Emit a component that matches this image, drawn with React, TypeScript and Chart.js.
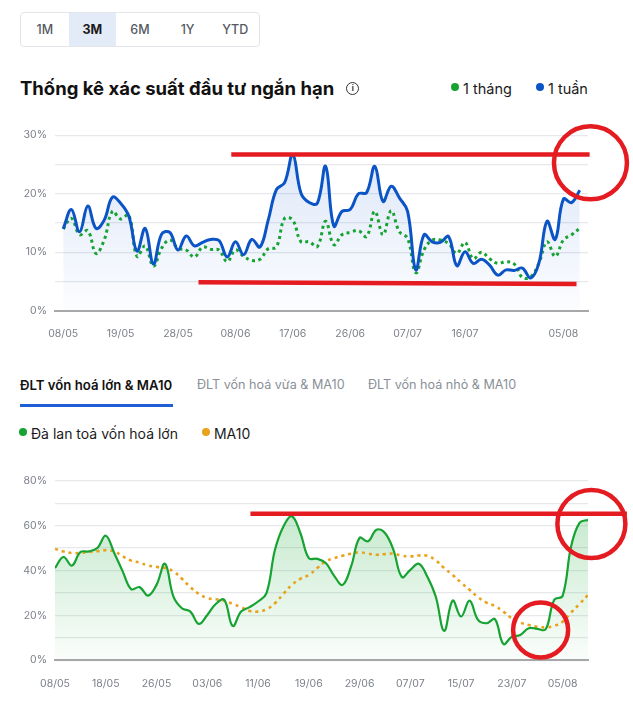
import React, { useEffect, useRef } from 'react';
import { Chart, registerables } from 'chart.js';

Chart.register(...registerables);

// short-term probability chart (top)
const topDates = [
  '08/05', '09/05', '12/05', '13/05', '14/05', '15/05', '16/05', '19/05', '20/05', '21/05',
  '22/05', '23/05', '26/05', '27/05', '28/05', '29/05', '30/05', '02/06', '03/06', '04/06',
  '05/06', '08/06', '09/06', '10/06', '11/06', '12/06', '13/06', '16/06', '17/06', '18/06',
  '19/06', '20/06', '23/06', '24/06', '25/06', '26/06', '27/06', '30/06', '01/07', '02/07',
  '03/07', '04/07', '07/07', '08/07', '09/07', '10/07', '11/07', '14/07', '15/07', '16/07',
  '17/07', '18/07', '21/07', '22/07', '23/07', '24/07', '25/07', '28/07', '29/07', '30/07',
  '31/07', '05/08', '06/08', '07/08',
];
const topTickLabels = ['08/05', '19/05', '28/05', '08/06', '17/06', '26/06', '07/07', '16/07', '05/08'];
const oneWeek = [
  14.0, 17.3, 13.5, 17.9, 14.1, 15.5, 19.4, 18.4, 16.2, 10.2,
  14.1, 8.0, 13.1, 13.4, 10.4, 12.8, 11.1, 11.7, 12.2, 12.0,
  9.2, 11.8, 9.6, 12.2, 10.9, 15.5, 20.7, 21.9, 26.7, 20.1,
  18.5, 18.4, 24.7, 14.5, 17.0, 17.3, 20.0, 20.2, 24.7, 18.7,
  21.3, 19.3, 17.0, 7.0, 13.0, 11.8, 11.7, 12.7, 7.7, 10.1,
  8.1, 8.8, 7.8, 6.1, 7.0, 6.9, 7.3, 5.6, 8.1, 15.3,
  12.2, 19.1, 18.5, 20.6,
];
const oneMonth = [
  14.0, 15.8, 13.0, 13.7, 9.8, 12.1, 17.0, 15.7, 16.4, 9.3,
  11.1, 7.6, 10.7, 12.1, 10.7, 10.4, 9.2, 10.9, 10.5, 10.4,
  8.4, 10.4, 9.3, 8.6, 8.8, 10.6, 10.9, 15.8, 15.5, 11.8,
  11.8, 11.0, 15.3, 11.3, 13.0, 13.4, 13.7, 12.7, 17.0, 13.0,
  17.1, 13.5, 12.4, 6.5, 10.4, 12.1, 12.1, 11.5, 9.8, 11.7,
  8.9, 10.0, 8.9, 8.1, 8.4, 8.0, 5.7, 5.8, 8.1, 11.8,
  9.3, 12.1, 13.0, 14.1,
];
const topYTicks = [0, 10, 20, 30];

// large-cap breadth chart (bottom)
const bottomDates = [
  '08/05', '09/05', '12/05', '13/05', '14/05', '15/05', '18/05', '19/05', '20/05', '21/05',
  '22/05', '23/05', '26/05', '27/05', '28/05', '29/05', '30/05', '02/06', '03/06', '04/06',
  '05/06', '06/06', '09/06', '10/06', '11/06', '12/06', '13/06', '16/06', '17/06', '18/06',
  '19/06', '20/06', '23/06', '24/06', '25/06', '26/06', '29/06', '30/06', '01/07', '02/07',
  '03/07', '04/07', '07/07', '08/07', '09/07', '10/07', '11/07', '14/07', '15/07', '16/07',
  '17/07', '18/07', '21/07', '22/07', '23/07', '24/07', '25/07', '28/07', '29/07', '30/07',
  '05/08', '06/08', '07/08', '08/08',
];
const bottomTickLabels = ['08/05', '18/05', '26/05', '03/06', '11/06', '19/06', '29/06', '07/07', '15/07', '23/07', '05/08'];
const breadthLarge = [
  41.1, 46.0, 42.2, 48.2, 48.5, 50.0, 55.5, 47.8, 39.6, 31.7,
  32.6, 28.8, 33.6, 43.0, 28.4, 23.2, 21.7, 16.2, 20.2, 25.1,
  26.9, 15.3, 21.7, 23.7, 26.2, 29.9, 49.2, 59.6, 64.1, 56.7,
  45.5, 45.2, 43.3, 37.6, 33.6, 41.8, 54.5, 53.0, 58.2, 56.7,
  49.2, 37.1, 40.3, 43.0, 37.3, 28.4, 13.1, 26.6, 19.5, 26.6,
  18.0, 16.5, 18.3, 7.3, 10.5, 11.3, 14.3, 14.0, 13.8, 26.9,
  28.7, 50.7, 61.2, 62.6,
];
const ma10 = [
  49.6, 48.5, 47.8, 47.8, 48.2, 48.6, 49.0, 48.5, 46.3, 44.4,
  43.5, 42.2, 41.6, 41.1, 39.6, 36.3, 32.6, 29.6, 27.7, 27.2,
  26.6, 25.1, 23.7, 22.0, 21.7, 22.7, 25.4, 29.6, 33.6, 36.3,
  38.0, 41.1, 44.1, 45.5, 46.6, 47.5, 48.1, 47.5, 47.0, 47.3,
  47.5, 46.6, 46.3, 46.7, 46.6, 44.5, 41.1, 38.0, 34.6, 31.4,
  28.1, 25.7, 24.2, 21.7, 18.7, 16.8, 15.7, 14.9, 14.7, 15.3,
  17.2, 21.3, 25.1, 29.1,
];
const bottomYTicks = [0, 20, 40, 60, 80];

// red hand-drawn marks, in data units (x = point index, y = percent)
const topMarkLines = [
  { x1: 20.5, y1: 26.7, x2: 64.2, y2: 26.7 },
  { x1: 16.5, y1: 4.9, x2: 62.6, y2: 4.6 },
];
const topMarkCircles = [{ x: 64.3, y: 25.3, r: 36.5 }];
const bottomMarkLines = [{ x1: 23.1, y1: 65.3, x2: 67.6, y2: 65.3 }];
const bottomMarkCircles = [
  { x: 63.4, y: 60.7, r: 34 },
  { x: 57.4, y: 13.5, r: 27.5 },
];

const BLUE = '#0b54c6';
const GREEN = '#16a332';
const ORANGE = '#e9a21c';
const RED = '#e41b21';
const TICK = '#7c8189';

Chart.defaults.font.family = 'Inter, "Noto Sans", sans-serif';

type Mark = { x1: number; y1: number; x2: number; y2: number };
type Ring = { x: number; y: number; r: number };

const marksPlugin = (lines: Mark[], rings: Ring[]) => ({
  id: 'redMarks',
  afterDraw(chart: Chart) {
    const { ctx, scales } = chart;
    const xs = scales.x;
    const ys = scales.y;
    ctx.save();
    ctx.strokeStyle = RED;
    ctx.lineWidth = 4.5;
    lines.forEach((l) => {
      ctx.beginPath();
      ctx.moveTo(xs.getPixelForValue(l.x1), ys.getPixelForValue(l.y1));
      ctx.lineTo(xs.getPixelForValue(l.x2), ys.getPixelForValue(l.y2));
      ctx.stroke();
    });
    rings.forEach((c) => {
      ctx.beginPath();
      ctx.arc(xs.getPixelForValue(c.x), ys.getPixelForValue(c.y), c.r, 0, Math.PI * 2);
      ctx.stroke();
    });
    ctx.restore();
  },
});

const gradient = (rgb: string, top: number, bottom: number) => (ctx: any) => {
  const { chart } = ctx;
  const area = chart.chartArea;
  if (!area) return 'transparent';
  const g = chart.ctx.createLinearGradient(0, area.top, 0, area.bottom);
  g.addColorStop(0, `rgba(${rgb}, ${top})`);
  g.addColorStop(1, `rgba(${rgb}, ${bottom})`);
  return g;
};

const buildOptions = (
  dates: string[],
  tickLabels: string[],
  xMin: number,
  xMax: number,
  yMax: number,
  yStep: number,
  yLabels: number[],
  padTop: number,
  padBottom: number,
): any => ({
  responsive: true,
  maintainAspectRatio: false,
  animation: false,
  layout: { padding: { top: padTop, right: 45, bottom: padBottom, left: 0 } },
  plugins: {
    legend: { display: false },
    tooltip: { enabled: false },
    filler: { drawTime: 'beforeDatasetsDraw' },
  },
  elements: { point: { radius: 0 }, line: { tension: 0.4 } },
  scales: {
    x: {
      type: 'linear',
      min: xMin,
      max: xMax,
      grid: { display: false, drawTicks: false },
      border: { display: true, color: '#a8a8a8', width: 2 },
      afterBuildTicks: (scale: any) => {
        scale.ticks = tickLabels.map((l) => ({ value: dates.indexOf(l) }));
      },
      afterFit: (scale: any) => {
        scale.height = 30;
      },
      ticks: {
        autoSkip: false,
        maxRotation: 0,
        padding: 17,
        color: TICK,
        font: { size: 10.5 },
        callback: (v: number) => dates[v] ?? '',
      },
    },
    y: {
      min: 0,
      max: yMax,
      grid: { color: '#e6e8ec', lineWidth: 1.2, drawTicks: false },
      border: { display: false },
      afterFit: (scale: any) => {
        scale.width = 55;
      },
      ticks: {
        stepSize: yStep,
        padding: 8,
        color: TICK,
        font: { size: 10.5 },
        callback: (v: number) => (yLabels.includes(v) ? `${v}%` : ''),
      },
    },
  },
});

const TopChart: React.FC = () => {
  const ref = useRef<HTMLCanvasElement>(null);
  useEffect(() => {
    if (!ref.current) return;
    const chart = new Chart(ref.current, {
      type: 'line',
      data: {
        datasets: [
          {
            label: '1 tuần',
            data: oneWeek.map((v, i) => ({ x: i, y: v })),
            borderColor: BLUE,
            borderWidth: 3,
            fill: 'origin',
            backgroundColor: gradient('24, 92, 210', 0.16, 0.01),
          },
          {
            label: '1 tháng',
            data: oneMonth.map((v, i) => ({ x: i, y: v })),
            borderColor: GREEN,
            borderWidth: 3,
            borderDash: [3, 3.5],
            fill: false,
          },
        ],
      },
      options: buildOptions(topDates, topTickLabels, -1, oneWeek.length, 30, 5, topYTicks, 25.3, 9.2),
      plugins: [marksPlugin(topMarkLines, topMarkCircles)],
    });
    return () => chart.destroy();
  }, []);
  return <canvas ref={ref}></canvas>;
};

const BottomChart: React.FC = () => {
  const ref = useRef<HTMLCanvasElement>(null);
  useEffect(() => {
    if (!ref.current) return;
    const chart = new Chart(ref.current, {
      type: 'line',
      data: {
        datasets: [
          {
            label: 'Đà lan toả vốn hoá lớn',
            data: breadthLarge.map((v, i) => ({ x: i, y: v })),
            borderColor: GREEN,
            borderWidth: 2.2,
            fill: 'origin',
            backgroundColor: gradient('30, 170, 60', 0.3, 0.02),
          },
          {
            label: 'MA10',
            data: ma10.map((v, i) => ({ x: i, y: v })),
            borderColor: ORANGE,
            borderWidth: 2.6,
            borderDash: [3, 4],
            fill: false,
          },
        ],
      },
      options: buildOptions(bottomDates, bottomTickLabels, 0, breadthLarge.length - 1, 80, 10, bottomYTicks, 20.7, 14.7),
      plugins: [marksPlugin(bottomMarkLines, bottomMarkCircles)],
    });
    return () => chart.destroy();
  }, []);
  return <canvas ref={ref}></canvas>;
};

const ranges = ['1M', '3M', '6M', '1Y', 'YTD'];

const dot = (color: string): React.CSSProperties => ({
  display: 'inline-block',
  width: 8,
  height: 8,
  borderRadius: '50%',
  background: color,
  marginRight: 4,
  verticalAlign: 'middle',
  position: 'relative',
  top: -1,
});

const App: React.FC = () => {
  const font = 'Inter, "Noto Sans", sans-serif';
  return (
    <div style={{ position: 'absolute', left: 0, top: 0, width: 633, height: 705, fontFamily: font, color: '#111', background: '#fff' }}>
      <div
        style={{
          position: 'absolute', left: 20, top: 12, width: 240, height: 35, display: 'flex',
          border: '1px solid #e2e5ea', borderRadius: 4, overflow: 'hidden', boxSizing: 'border-box',
        }}
      >
        {ranges.map((r) => (
          <div
            key={r}
            style={{
              width: 48, display: 'flex', alignItems: 'center', justifyContent: 'center',
              fontSize: 12.5, fontWeight: r === '3M' ? 700 : 500,
              color: r === '3M' ? '#1b1b1b' : '#555a62',
              background: r === '3M' ? '#e4ebf8' : 'transparent',
            }}
          >
            {r}
          </div>
        ))}
      </div>

      <div style={{ position: 'absolute', left: 20, top: 76, height: 24, display: 'flex', alignItems: 'center', fontSize: 18.5, fontWeight: 700 }}>
        Thống kê xác suất đầu tư ngắn hạn
        <span
          style={{
            display: 'inline-flex', alignItems: 'center', justifyContent: 'center', marginLeft: 12,
            width: 11, height: 11, borderRadius: '50%', border: '1.3px solid #333', fontSize: 8, fontWeight: 600,
          }}
        >
          i
        </span>
      </div>
      <div style={{ position: 'absolute', left: 451, top: 78, height: 20, display: 'flex', alignItems: 'center', fontSize: 14.5, color: '#1b1b1b' }}>
        <span style={dot(GREEN)}></span>
        <span>1 tháng</span>
        <span style={{ ...dot(BLUE), marginLeft: 24 }}></span>
        <span>1 tuần</span>
      </div>

      <div style={{ position: 'absolute', left: 0, top: 110, width: 633, height: 240 }}>
        <TopChart />
      </div>

      <div style={{ position: 'absolute', left: 20, top: 377, fontSize: 13.2, fontWeight: 600, color: '#111' }}>
        ĐLT vốn hoá lớn &amp; MA10
      </div>
      <div style={{ position: 'absolute', left: 20, top: 404, width: 153, height: 3, background: '#1e5fd8' }}></div>
      <div style={{ position: 'absolute', left: 197, top: 377, fontSize: 12.6, color: '#8a8f97' }}>
        ĐLT vốn hoá vừa &amp; MA10
      </div>
      <div style={{ position: 'absolute', left: 368, top: 377, fontSize: 12.6, color: '#8a8f97' }}>
        ĐLT vốn hoá nhỏ &amp; MA10
      </div>

      <div style={{ position: 'absolute', left: 19, top: 423, height: 20, display: 'flex', alignItems: 'center', fontSize: 14, color: '#1b1b1b' }}>
        <span style={dot(GREEN)}></span>
        <span>Đà lan toả vốn hoá lớn</span>
        <span style={{ ...dot(ORANGE), marginLeft: 24 }}></span>
        <span>MA10</span>
      </div>

      <div style={{ position: 'absolute', left: 0, top: 460, width: 633, height: 245 }}>
        <BottomChart />
      </div>
    </div>
  );
};

export default App;
